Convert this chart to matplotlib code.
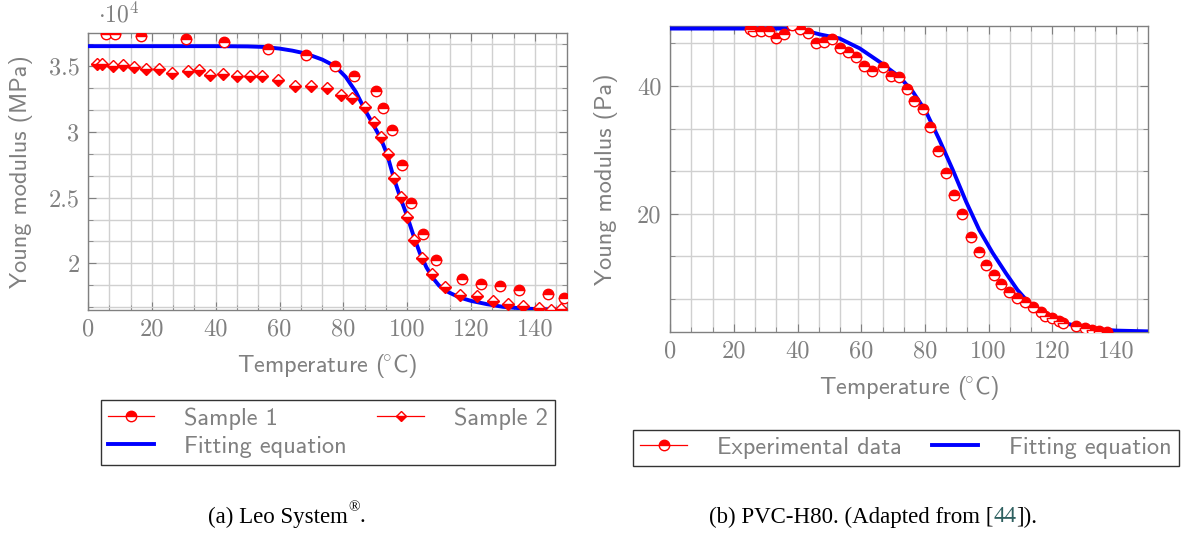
import matplotlib.pyplot as plt
import numpy as np
from matplotlib.ticker import MultipleLocator, AutoMinorLocator, FuncFormatter
from matplotlib.lines import Line2D

plt.rcParams['mathtext.fontset'] = 'cm'

# ---- (a) Leo System, values in 10^4 MPa ----
s1_temp = [5.5, 8.6, 16.7, 30.7, 42.5, 56.5, 68.2, 77.4, 83.4, 90.2, 92.3, 95.3,
           98.2, 101.3, 105.0, 109.1, 117.0, 123.1, 129.0, 135.1, 144.0, 149.0]
s1_mod = [3.745, 3.745, 3.727, 3.705, 3.680, 3.629, 3.581, 3.500, 3.427, 3.306, 3.182, 3.013,
          2.745, 2.462, 2.225, 2.023, 1.880, 1.846, 1.830, 1.800, 1.768, 1.738]

s2_temp = [2.9, 4.5, 7.8, 11.0, 14.4, 18.2, 22.1, 26.4, 31.3, 34.7, 38.2, 42.4,
           46.6, 50.8, 54.5, 59.5, 64.9, 69.8, 74.8, 79.2, 82.8, 86.8, 89.6, 91.8,
           93.9, 95.9, 97.9, 100.0, 102.1, 104.7, 107.8, 111.7, 116.5, 121.9, 126.8,
           131.4, 136.2, 141.4, 145.0, 148.0]
s2_mod = [3.518, 3.518, 3.503, 3.510, 3.492, 3.480, 3.473, 3.447, 3.465, 3.467, 3.430, 3.437,
          3.420, 3.420, 3.420, 3.392, 3.351, 3.346, 3.329, 3.278, 3.258, 3.187, 3.073, 2.962,
          2.831, 2.649, 2.508, 2.356, 2.174, 2.041, 1.922, 1.821, 1.760, 1.750, 1.712,
          1.689, 1.674, 1.662, 1.649, 1.657]

fit_a_temp = [0, 20, 40, 50, 55, 59.9, 64, 68.2, 73.4, 77.4, 80.7, 83.9, 86.5, 89.1,
              91.7, 93.75, 95.8, 97.9, 100.0, 102.1, 104.0, 106.0, 108.0, 110.0, 113.0,
              116.5, 120, 125, 130, 135, 140, 150]
fit_a_mod = [3.650, 3.650, 3.650, 3.648, 3.644, 3.632, 3.616, 3.594, 3.548, 3.498, 3.417,
             3.303, 3.177, 3.064, 2.950, 2.823, 2.647, 2.495, 2.356, 2.200, 2.075, 1.970,
             1.890, 1.830, 1.780, 1.740, 1.715, 1.690, 1.670, 1.660, 1.653, 1.648]

# ---- (b) PVC-H80, values in Pa ----
exp_temp = [25.0, 25.9, 28.4, 31.0, 33.4, 35.8, 38.3, 40.7, 43.4, 45.9, 48.3, 50.8,
            53.2, 55.8, 58.4, 60.8, 63.4, 66.8, 69.2, 71.7, 74.3, 76.7, 79.3, 81.6,
            84.2, 86.7, 89.0, 91.5, 94.4, 96.8, 99.1, 101.5, 103.9, 106.4, 108.8,
            111.3, 113.9, 116.5, 117.6, 119.8, 121.9, 123.4, 127.5, 130.1, 132.3,
            134.6, 137.1]
exp_mod = [49.0, 48.6, 48.6, 48.65, 47.5, 48.2, 49.5, 48.95, 48.3, 46.8, 46.9, 47.3,
           46.0, 45.4, 44.5, 43.2, 42.3, 43.0, 41.6, 41.4, 39.5, 37.7, 36.4, 33.6,
           29.9, 26.45, 23.0, 20.0, 16.35, 14.1, 12.0, 10.5, 9.06, 7.8, 6.77,
           6.14, 5.36, 4.58, 4.06, 3.7, 3.17, 2.92, 2.5, 2.08, 1.77,
           1.6, 1.5]

fit_b_temp = [0, 20, 35, 40, 43, 46.9, 53.2, 59.5, 65.7, 72.0, 76.2, 80.3, 84.5, 88.7,
              92.9, 97.0, 101.2, 105.4, 109.0, 112, 115, 118, 121, 125, 130, 135, 140, 150]
fit_b_mod = [49.0, 49.0, 49.0, 48.9, 48.6, 48.1, 47.45, 45.9, 43.8, 41.45, 39.1, 36.0,
             31.6, 26.9, 21.9, 17.5, 13.9, 10.7, 8.1, 6.4, 5.1, 4.1, 3.4, 2.75, 2.2,
             1.9, 1.72, 1.6]

gray = '#808080'
red = '#ff0000'
blue = '#0000ff'
fs = 17.5
sans = ['cmss10', 'DejaVu Sans']

fig = plt.figure(figsize=(11.87, 5.33), dpi=100)
ax1 = fig.add_axes([0.0741, 0.4184, 0.4035, 0.5197])
ax2 = fig.add_axes([0.5645, 0.3771, 0.4027, 0.5741])

circle_kw = dict(linestyle='none', marker='o', markersize=7.5, fillstyle='top',
                 markerfacecolor=red, markerfacecoloralt='white',
                 markeredgecolor=red, markeredgewidth=1.0, zorder=4)
diamond_kw = dict(linestyle='none', marker='D', markersize=5.8, fillstyle='bottom',
                  markerfacecolor=red, markerfacecoloralt='white',
                  markeredgecolor=red, markeredgewidth=1.0, zorder=4)

ax1.plot(fit_a_temp, fit_a_mod, color=blue, lw=2.8, zorder=3)
ax1.plot(s1_temp, s1_mod, **circle_kw)
ax1.plot(s2_temp, s2_mod, **diamond_kw)

ax2.plot(fit_b_temp, fit_b_mod, color=blue, lw=2.8, zorder=3)
ax2.plot(exp_temp, exp_mod, **circle_kw)

ax1.set_xlim(0, 150)
ax1.set_ylim(1.646, 3.75)
ax2.set_xlim(0, 150)
ax2.set_ylim(1.5, 49.4)

ax1.yaxis.set_major_locator(MultipleLocator(0.5))
ax2.yaxis.set_major_locator(MultipleLocator(20))
ax1.yaxis.set_major_formatter(FuncFormatter(lambda v, p: '%g' % v))
ax2.yaxis.set_major_formatter(FuncFormatter(lambda v, p: '%g' % v))

for ax in (ax1, ax2):
    ax.xaxis.set_major_locator(MultipleLocator(20))
    ax.xaxis.set_major_formatter(FuncFormatter(lambda v, p: '%g' % v))
    ax.xaxis.set_minor_locator(AutoMinorLocator(3))
    ax.yaxis.set_minor_locator(AutoMinorLocator(3))
    ax.grid(True, which='both', color='#d0d0d0', lw=1.0, zorder=0)
    ax.set_axisbelow(True)
    for sp in ax.spines.values():
        sp.set_color(gray)
        sp.set_linewidth(1.0)
    ax.tick_params(which='both', direction='in', top=True, right=True, color=gray,
                   labelcolor=gray, labelsize=17.5)
    ax.tick_params(which='major', length=6, pad=6)
    ax.tick_params(which='minor', length=3.5)
    for lab in ax.get_xticklabels() + ax.get_yticklabels():
        lab.set_fontfamily('cmr10')
    ax.set_xlabel(r'Temperature ($\!{}^{\circ}$C)', fontfamily=sans, fontsize=fs, color=gray)

ax1.set_ylabel('Young modulus (MPa)', fontfamily=sans, fontsize=fs, color=gray)
ax2.set_ylabel('Young modulus (Pa)', fontfamily=sans, fontsize=fs, color=gray)
ax1.yaxis.set_label_coords(-0.115, 0.5)
ax2.yaxis.set_label_coords(-0.109, 0.5)
ax1.xaxis.set_label_coords(0.5, -0.15)
ax2.xaxis.set_label_coords(0.5, -0.137)

ax1.text(0.02, 1.02, r'$\cdot 10^4$', transform=ax1.transAxes, ha='left', va='bottom',
         fontsize=17, color=gray)

# legends
h_s1 = Line2D([], [], color=red, lw=0.9, marker='o', markersize=7.5, fillstyle='top',
              markerfacecolor=red, markerfacecoloralt='white', markeredgecolor=red)
h_s2 = Line2D([], [], color=red, lw=0.9, marker='D', markersize=5.2, fillstyle='bottom',
              markerfacecolor=red, markerfacecoloralt='white', markeredgecolor=red)
h_fit = Line2D([], [], color=blue, lw=2.8)

leg_kw = dict(loc='center', frameon=True, fancybox=False, edgecolor='#333333',
              framealpha=1, numpoints=1, handlelength=1.9, handletextpad=1.25,
              columnspacing=1.25, labelcolor=gray, borderpad=0.3, labelspacing=0.25,
              prop={'family': sans, 'size': fs})
leg1 = fig.legend([h_s1, h_fit, h_s2], ['Sample 1', 'Fitting equation', 'Sample 2'],
                  ncol=2, bbox_to_anchor=(0.2762, 0.1886), **leg_kw)
leg1.get_frame().set_linewidth(1.0)
leg2 = fig.legend([h_s1, h_fit], ['Experimental data', 'Fitting equation'],
                  ncol=2, bbox_to_anchor=(0.7632, 0.1595), **leg_kw)
leg2.get_frame().set_linewidth(1.0)

# captions, drawn piece by piece
renderer = fig.canvas.get_renderer()


def caption(parts, xc, y):
    texts = []
    total = 0
    for s, col, size, dy in parts:
        t = fig.text(0, y + dy, s, color=col, fontsize=size, family='Liberation Serif',
                     ha='left', va='center')
        w = t.get_window_extent(renderer).width / fig.bbox.width
        texts.append((t, w))
        total += w
    x = xc - total / 2
    for t, w in texts:
        t.set_x(x)
        x += w


cap_y = 1 - 517 / 533
caption([('(a) Leo System', 'black', 16.5, 0), ('\u00ae', 'black', 11, 0.018),
         ('.', 'black', 16.5, 0)], 287 / 1187, cap_y)
caption([('(b) PVC-H80. (Adapted from [', 'black', 16.5, 0), ('44', '#2e6060', 16.5, 0),
         (']).', 'black', 16.5, 0)], 873 / 1187, cap_y)

fig.savefig('out.png', dpi=100)
